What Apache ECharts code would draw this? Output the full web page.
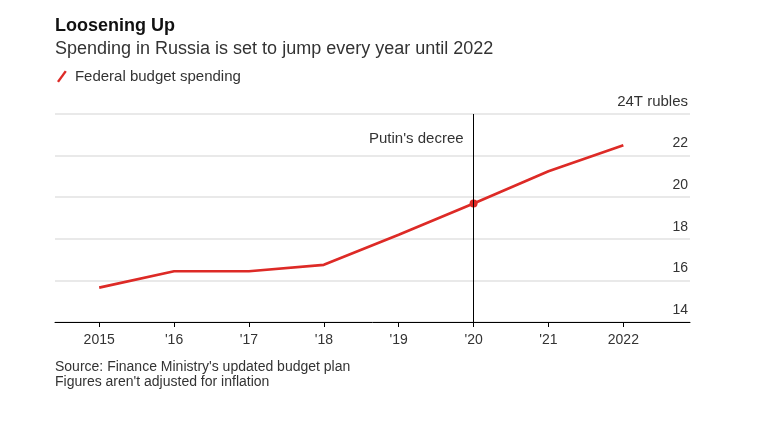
<!DOCTYPE html>
<html><head><meta charset="utf-8">
<script src="https://cdn.jsdelivr.net/npm/echarts@6/dist/echarts.min.js"></script>
<style>html,body{margin:0;padding:0;background:#fff}#c{width:768px;height:434px}</style>
</head><body><div id="c"></div>
<script>
const years = [2015, 2016, 2017, 2018, 2019, 2020, 2021, 2022];
const yearLabels = ['2015', "'16", "'17", "'18", "'19", "'20", "'21", '2022'];
const spending = [15.65, 16.44, 16.44, 16.75, 18.2, 19.7, 21.25, 22.5];
const yTicks = [14, 16, 18, 20, 22, 24];
const decreeYear = 2020;
const decreeLabel = "Putin's decree";
const seriesName = 'Federal budget spending';

const FONT = '"Liberation Sans", Arial, sans-serif';
const RED = '#dd2a26';
const chart = echarts.init(document.getElementById('c'), null, {renderer: 'canvas'});
const data = years.map((y, i) => {
  const d = {value: [y, spending[i]]};
  if (y === decreeYear) { d.symbol = 'circle'; d.symbolSize = 8; }
  return d;
});
chart.setOption({
  animation: false,
  textStyle: {fontFamily: FONT},
  title: {
    left: 50, top: 11,
    text: 'Loosening Up',
    subtext: 'Spending in Russia is set to jump every year until 2022',
    itemGap: 3,
    textStyle: {fontFamily: FONT, fontSize: 18, fontWeight: 'bold', color: '#111', lineHeight: 20},
    subtextStyle: {fontFamily: FONT, fontSize: 18, color: '#333', lineHeight: 20}
  },
  legend: {
    left: 52, top: 64,
    itemWidth: 10, itemHeight: 12, itemGap: 6,
    icon: 'path://M0,11 L8,0 L10,1.3 L2,12.3 Z',
    textStyle: {fontFamily: FONT, fontSize: 15, color: '#333', padding: [0, 0, 0, 3]},
    data: [{name: seriesName}]
  },
  grid: {left: 55, right: 78, top: 114, bottom: 112},
  xAxis: {
    type: 'value', min: 2014.41, max: 2022.89,
    splitLine: {show: false},
    axisLine: {show: true, lineStyle: {color: '#000', width: 1}},
    axisTick: {show: true, customValues: years, length: 5, lineStyle: {color: '#000'}},
    axisLabel: {
      customValues: years, margin: 11, fontSize: 14, color: '#333', fontFamily: FONT,
      formatter: v => yearLabels[years.indexOf(Math.round(v))]
    }
  },
  yAxis: {
    type: 'value', position: 'right', min: 14, max: 24, interval: 2,
    axisLine: {show: false}, axisTick: {show: false},
    splitLine: {show: true, lineStyle: {color: '#e2e2e2', width: 1.5}},
    axisLabel: {
      inside: true, margin: 2, verticalAlign: 'bottom', padding: [0, 0, 5, 0],
      fontSize: 14, color: '#333', fontFamily: FONT,
      rich: {u: {fontSize: 15, color: '#333', fontFamily: FONT}},
      formatter: v => v === 24 ? '{u|24T rubles}' : String(v)
    }
  },
  series: [{
    name: seriesName, type: 'line', data: data,
    symbol: 'none', showSymbol: true,
    lineStyle: {color: RED, width: 2.7},
    itemStyle: {color: RED},
    markLine: {
      silent: true, symbol: 'none',
      lineStyle: {color: '#000', width: 1, type: 'solid'},
      label: {show: false},
      data: [{xAxis: decreeYear}]
    },
    markPoint: {
      silent: true, symbol: 'circle', symbolSize: 0,
      label: {show: true, position: 'left', distance: 10, formatter: decreeLabel,
        fontSize: 15, color: '#333', fontFamily: FONT},
      data: [{coord: [decreeYear, 22.8]}]
    }
  }],
  graphic: [
    {type: 'text', left: 55, top: 360, style: {text: "Source: Finance Ministry's updated budget plan", fontSize: 14, fill: '#333', fontFamily: FONT}},
    {type: 'text', left: 55, top: 375, style: {text: "Figures aren't adjusted for inflation", fontSize: 14, fill: '#333', fontFamily: FONT}}
  ]
});
</script></body></html>
